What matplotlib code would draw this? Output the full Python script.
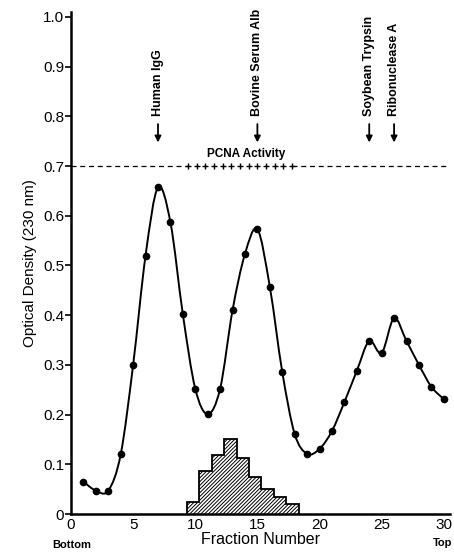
import numpy as np
import matplotlib
matplotlib.use('Agg')
import matplotlib.pyplot as plt
from matplotlib.path import Path
from matplotlib.patches import PathPatch

plt.rcParams['font.family'] = ['Liberation Sans', 'DejaVu Sans']
plt.rcParams['hatch.linewidth'] = 0.7

# optical density of each fraction
fractions = list(range(1, 31))
od = [0.065, 0.047, 0.047, 0.12, 0.30, 0.52, 0.657, 0.587, 0.402, 0.252,
      0.201, 0.252, 0.41, 0.523, 0.573, 0.457, 0.286, 0.161, 0.121, 0.131,
      0.167, 0.225, 0.288, 0.348, 0.324, 0.394, 0.348, 0.300, 0.256, 0.231]

# PCNA activity histogram
pcna_fractions = [10, 11, 12, 13, 14, 15, 16, 17, 18]
pcna_activity = [0.025, 0.087, 0.118, 0.15, 0.113, 0.074, 0.05, 0.034, 0.02]

# plus marks on the 0.7 line where activity was found
pcna_marks = [9.4, 10.1, 10.8, 11.5, 12.2, 12.9, 13.6, 14.3, 15.0, 15.7,
              16.4, 17.1, 17.8]

# molecular weight standards
standards = ['Human IgG', 'Bovine Serum Alb', 'Soybean Trypsin', 'Ribonuclease A']
standard_pos = [7, 15, 24, 26]

fig = plt.figure(figsize=(4.54, 5.56), dpi=100)
ax = fig.add_axes([71/454, 42/556, (450-71)/454, (514-12)/556])
ax.set_xlim(0, 30.5)
ax.set_ylim(0, 1.01)

# smooth curve (Catmull-Rom as bezier segments)
x = np.array(fractions, float)
y = np.array(od)
verts = [(x[0], y[0])]
codes = [Path.MOVETO]
for i in range(len(x) - 1):
    p0 = np.array([x[max(i-1, 0)], y[max(i-1, 0)]])
    p1 = np.array([x[i], y[i]])
    p2 = np.array([x[i+1], y[i+1]])
    p3 = np.array([x[min(i+2, len(x)-1)], y[min(i+2, len(x)-1)]])
    c1 = p1 + (p2 - p0) / 6
    c2 = p2 - (p3 - p1) / 6
    verts += [tuple(c1), tuple(c2), tuple(p2)]
    codes += [Path.CURVE4] * 3
ax.add_patch(PathPatch(Path(verts, codes), fill=False, lw=1.4, color='k'))
ax.plot(fractions, od, 'o', color='k', ms=4.5)

# histogram (outline only around the whole step shape)
edges = np.append(np.array(pcna_fractions) - 0.67, pcna_fractions[-1] + 0.37)
ax.stairs(pcna_activity, edges, baseline=0, fill=True, facecolor='white',
          edgecolor='k', lw=1.3, hatch='/' * 9)

# 0.7 line
ax.plot([0, pcna_marks[0]], [0.7, 0.7], color='k', lw=0.9, dashes=(4, 3))
ax.plot([pcna_marks[-1], 30.5], [0.7, 0.7], color='k', lw=0.9, dashes=(4, 3))
ax.plot(pcna_marks, [0.7] * len(pcna_marks), '+', color='k', ms=5, mew=1.0)
ax.text(14.1, 0.712, 'PCNA Activity', ha='center', va='bottom',
        fontsize=8.5, fontweight='bold')

for name, pos in zip(standards, standard_pos):
    ax.annotate('', xy=(pos, 0.742), xytext=(pos, 0.79),
                arrowprops=dict(arrowstyle='-|>', color='k', lw=1.3,
                                mutation_scale=9))
    ax.text(pos, 0.8, name, rotation=90, ha='center', va='bottom',
            fontsize=9, fontweight='bold')

ax.spines['top'].set_visible(False)
ax.spines['right'].set_visible(False)
ax.spines['left'].set_linewidth(1.8)
ax.spines['bottom'].set_linewidth(1.8)

ax.set_yticks(np.arange(0, 1.01, 0.1))
ax.set_yticklabels(['0'] + ['%.1f' % v for v in np.arange(0.1, 1.01, 0.1)])
ax.set_xticks(range(0, 31, 5))
ax.tick_params(axis='y', direction='out', length=4, width=1.2, labelsize=11, pad=1)
ax.tick_params(axis='x', length=0, labelsize=11, pad=3)

ax.set_ylabel('Optical Density (230 nm)', fontsize=11, labelpad=4)
ax.set_xlabel('Fraction Number', fontsize=11.5, labelpad=0)
fig.text(72/454, 1 - 545/556, 'Bottom', ha='center', va='center',
         fontsize=8, fontweight='bold')
fig.text(443/454, 1 - 543/556, 'Top', ha='center', va='center',
         fontsize=8, fontweight='bold')

fig.savefig('out.png', dpi=100)
